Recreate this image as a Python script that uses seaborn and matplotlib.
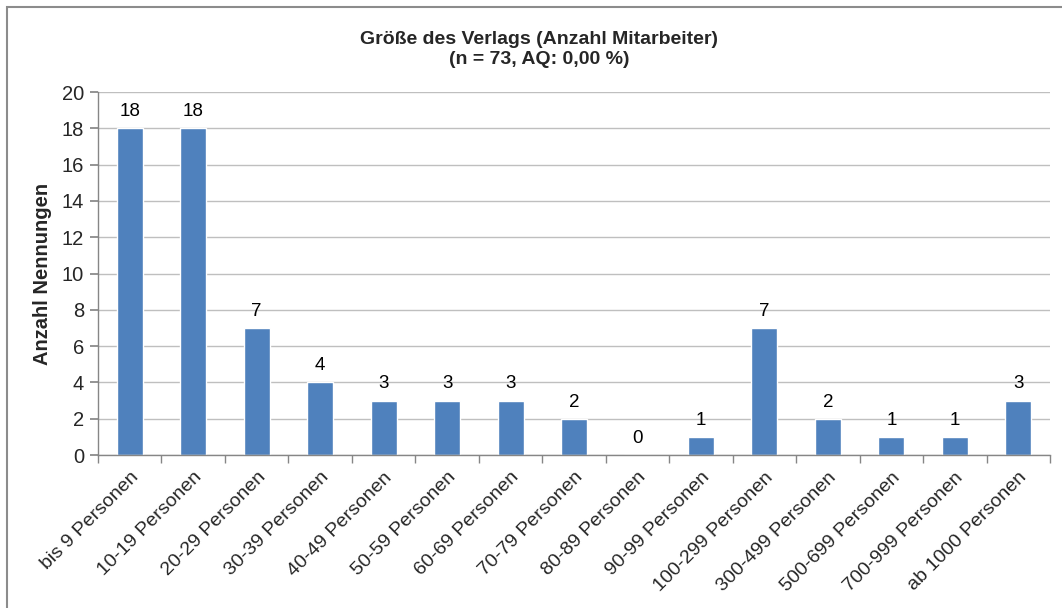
import pandas as pd
import matplotlib.pyplot as plt
import seaborn as sns
from matplotlib.patches import Rectangle

# Chart data
categories = [
    "bis 9 Personen", "10-19 Personen", "20-29 Personen", "30-39 Personen",
    "40-49 Personen", "50-59 Personen", "60-69 Personen", "70-79 Personen",
    "80-89 Personen", "90-99 Personen", "100-299 Personen", "300-499 Personen",
    "500-699 Personen", "700-999 Personen", "ab 1000 Personen",
]
counts = [18, 18, 7, 4, 3, 3, 3, 2, 0, 1, 7, 2, 1, 1, 3]
y_ticks = [0, 2, 4, 6, 8, 10, 12, 14, 16, 18, 20]

df = pd.DataFrame({"Kategorie": categories, "Anzahl": counts})

sns.set_theme(style="white")
plt.rcParams["font.family"] = ["Liberation Sans", "DejaVu Sans"]

fig = plt.figure(figsize=(10.62, 6.08), dpi=100)
ax = fig.add_axes([0.0923, 0.2516, 0.8964, 0.597])

sns.barplot(data=df, x="Kategorie", y="Anzahl", color="#4F81BD",
            width=0.41, saturation=1, ax=ax)

for i, v in enumerate(counts):
    ax.text(i, v + 0.45, str(v), ha="center", va="bottom", fontsize=13.5, color="black")

ax.set_ylim(0, 20)
ax.set_xlim(-0.5, len(categories) - 0.5)
ax.set_yticks(y_ticks)
ax.yaxis.grid(True, color="#BFBFBF", linewidth=1)
ax.set_axisbelow(True)

# Excel-style category ticks between the bars
ax.set_xticks([i - 0.5 for i in range(len(categories) + 1)], minor=True)
ax.set_xticks(range(len(categories)))
ax.set_xticklabels(categories, rotation=45, ha="right", rotation_mode="anchor", fontsize=14)
ax.tick_params(axis="x", which="major", length=0, pad=10)
ax.tick_params(axis="x", which="minor", length=6, color="#868686", bottom=True)
ax.tick_params(axis="y", length=6, color="#868686", left=True, labelsize=14.5, pad=4)

for side in ["top", "right"]:
    ax.spines[side].set_visible(False)
for side in ["left", "bottom"]:
    ax.spines[side].set_color("#868686")
    ax.spines[side].set_linewidth(1)

ax.set_xlabel("")
ax.set_ylabel("Anzahl Nennungen", fontsize=14.5, fontweight="bold", labelpad=7)

fig.text(0.5075, 0.919, "Größe des Verlags (Anzahl Mitarbeiter)\n(n = 73, AQ: 0,00 %)",
         ha="center", va="center", fontsize=14, fontweight="bold", linespacing=1.2)

# Chart frame
fig.patches.append(Rectangle((7 / 1062, -0.1), 1.2, 1 - 7 / 608 + 0.1,
                             transform=fig.transFigure, fill=False,
                             edgecolor="#8C8C8C", linewidth=1.5))

plt.savefig("out.png", dpi=100)
